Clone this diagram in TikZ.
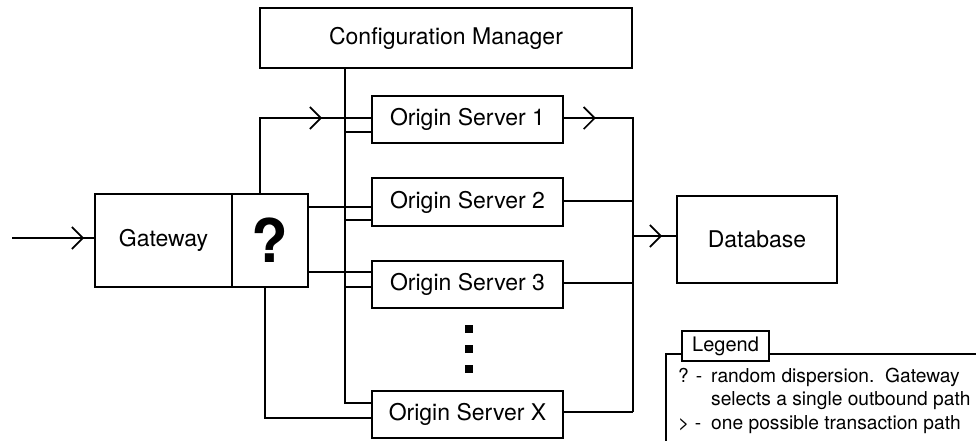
\documentclass[tikz,border=0pt]{standalone}
\usepackage{fontspec}
\setmainfont{TeX Gyre Heros}
\usetikzlibrary{arrows.meta,decorations.markings}

\tikzset{
  chev/.tip={Straight Barb[length=11pt,width=22pt,line width=1.7pt]},
  midarrow/.style={postaction={decorate},
    decoration={markings,mark=at position #1 with {\arrow{chev}}}},
  box/.style={draw,line width=1.8pt,rectangle,inner sep=0pt,
    font=\fontsize{23}{27}\selectfont},
  wire/.style={line width=1.8pt},
  dot/.style={fill,rectangle,minimum size=8pt,inner sep=0pt},
  legtext/.style={anchor=base west,inner sep=0pt,font=\fontsize{19.2}{22}\selectfont}
}

\begin{document}
\begin{tikzpicture}[x=1pt,y=-1pt]
\useasboundingbox (0,0) rectangle (976,440);
\clip (0,0) rectangle (976,440);

% boxes
\node[box,minimum width=372pt,minimum height=60pt] (cfg) at (446,38) {Configuration Manager};
\node[box,minimum width=137pt,minimum height=93pt] (gw) at (163.5,240.5) {Gateway};
\node[box,minimum width=76pt,minimum height=93pt,font=\fontsize{60}{64}\selectfont\bfseries] (q) at (270,240.5) {?};
\node[box,minimum width=191pt,minimum height=47pt] (s1) at (467.5,119.5) {Origin Server 1};
\node[box,minimum width=191pt,minimum height=48pt] (s2) at (467.5,202) {Origin Server 2};
\node[box,minimum width=191pt,minimum height=47pt] (s3) at (467.5,284.5) {Origin Server 3};
\node[box,minimum width=191pt,minimum height=47pt] (sx) at (467.5,414.5) {Origin Server X};
\node[box,minimum width=160pt,minimum height=87pt] (db) at (757,239.5) {Database};

% ellipsis between server 3 and server X
\node[dot] (d1) at (469,329) {};
\node[dot] (d2) at (469,349) {};
\node[dot] (d3) at (469,369) {};

% junction points
\coordinate (in) at (12,238);
\coordinate (cfgX) at (345,0);
\coordinate (busT) at (633,118);
\coordinate (busB) at (633,412);
\coordinate (busM) at (633,236);

% incoming request
\draw[wire,midarrow=-10pt] (in) -- (gw.west |- in);

% gateway outbound paths
\draw[wire,midarrow=-49pt] (q.north -| 260,0) |- ([yshift=1.5pt]s1.west);
\draw[wire] (q.east |- 0,207) -- (s2.west |- 0,207);
\draw[wire] (q.east |- 0,272) -- (s3.west |- 0,272);
\draw[wire] (q.south -| 265,0) |- (sx.west |- 0,418);

% configuration manager links
\draw[wire] (cfg.south -| cfgX) |- (sx.west |- 0,403);
\draw[wire] (cfgX |- 0,132) -- (s1.west |- 0,132);
\draw[wire] (cfgX |- 0,220) -- (s2.west |- 0,220);
\draw[wire] (cfgX |- 0,287) -- (s3.west |- 0,287);

% servers to database
\draw[wire,midarrow=32pt] (s1.east |- busT) -- (busT) -- (busB);
\draw[wire] (s2.east |- 0,201) -- (busT |- 0,201);
\draw[wire] (s3.east |- 0,283) -- (busT |- 0,283);
\draw[wire] (sx.east |- busB) -- (busB);
\draw[wire,midarrow=-14pt] (busM) -- (db.west |- busM);

% legend
\draw[wire,fill=white] (682,354) -| (666,460) -| (990,354) -- cycle;
\node[box,fill=white,minimum width=87pt,minimum height=30pt,
  font=\fontsize{20}{23}\selectfont] (leg) at (725.5,346) {Legend};
\node[legtext] (l1a) at (678,382) {? -};
\node[legtext] (l1b) at (711,382) {random dispersion.\ \ Gateway};
\node[legtext] (l2b) at (711,405) {selects a single outbound path};
\node[legtext] (l3a) at (678,429) {> -};
\node[legtext] (l3b) at (711,429) {one possible transaction path};
\end{tikzpicture}
\end{document}
